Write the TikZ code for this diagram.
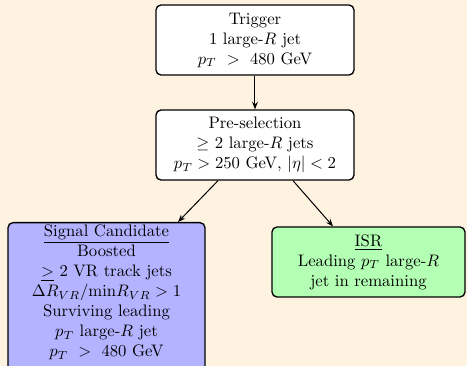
\documentclass[tikz,border=0pt]{standalone}
\usetikzlibrary{arrows.meta,calc}
\definecolor{bgcream}{HTML}{FDF3E0}
\definecolor{sigblue}{HTML}{B3B3FF}
\definecolor{isrgreen}{HTML}{B3FFB3}
\begin{document}
\begin{tikzpicture}[x=0.6pt,y=-0.6pt,
  box/.style={draw=black,line width=0.8pt,rounded corners=3pt,align=center,inner sep=0pt,fill=white,font=\normalsize},
  conn/.style={line width=0.6pt,-{Stealth[length=4.5pt,width=3.5pt]}}]
\fill[bgcream] (0,0) rectangle (467,366);
\useasboundingbox (0,0) rectangle (467,366);
\node[box,minimum width=118.8pt,minimum height=42pt] (trig) at (255,40)
  {Trigger\\ 1 large-$R$ jet\\ $p_T~>~480$ GeV};
\node[box,minimum width=118.8pt,minimum height=42pt] (pre) at (255,145)
  {Pre-selection\\ $\geq$ 2 large-$R$ jets\\ $p_T>250$ GeV, $|\eta|<2$};
\node[box,fill=sigblue,minimum width=118.2pt,minimum height=90pt,anchor=north] (sig) at (106.5,222)
  {\underline{Signal Candidate}\\ Boosted\\ \underline{$>$} 2 VR track jets\\ $\Delta R_{VR}/\mathrm{min}R_{VR}>1$\\ Surviving leading\\ $p_T$ large-$R$ jet\\ $p_T~>~480$ GeV\\[-4pt]\mbox{}};
\node[box,fill=isrgreen,minimum width=115.8pt,minimum height=42pt] (isr) at (368.5,262)
  {\underline{ISR}\\ Leading $p_T$ large-$R$\\ jet in remaining};
\draw[conn] (trig.south) -- (pre.north);
\draw[conn] ([xshift=-22.2pt]pre.south) -- ([xshift=42.9pt]sig.north);
\draw[conn] ([xshift=22.8pt]pre.south) -- ([xshift=-21.3pt]isr.north);
\end{tikzpicture}
\end{document}
